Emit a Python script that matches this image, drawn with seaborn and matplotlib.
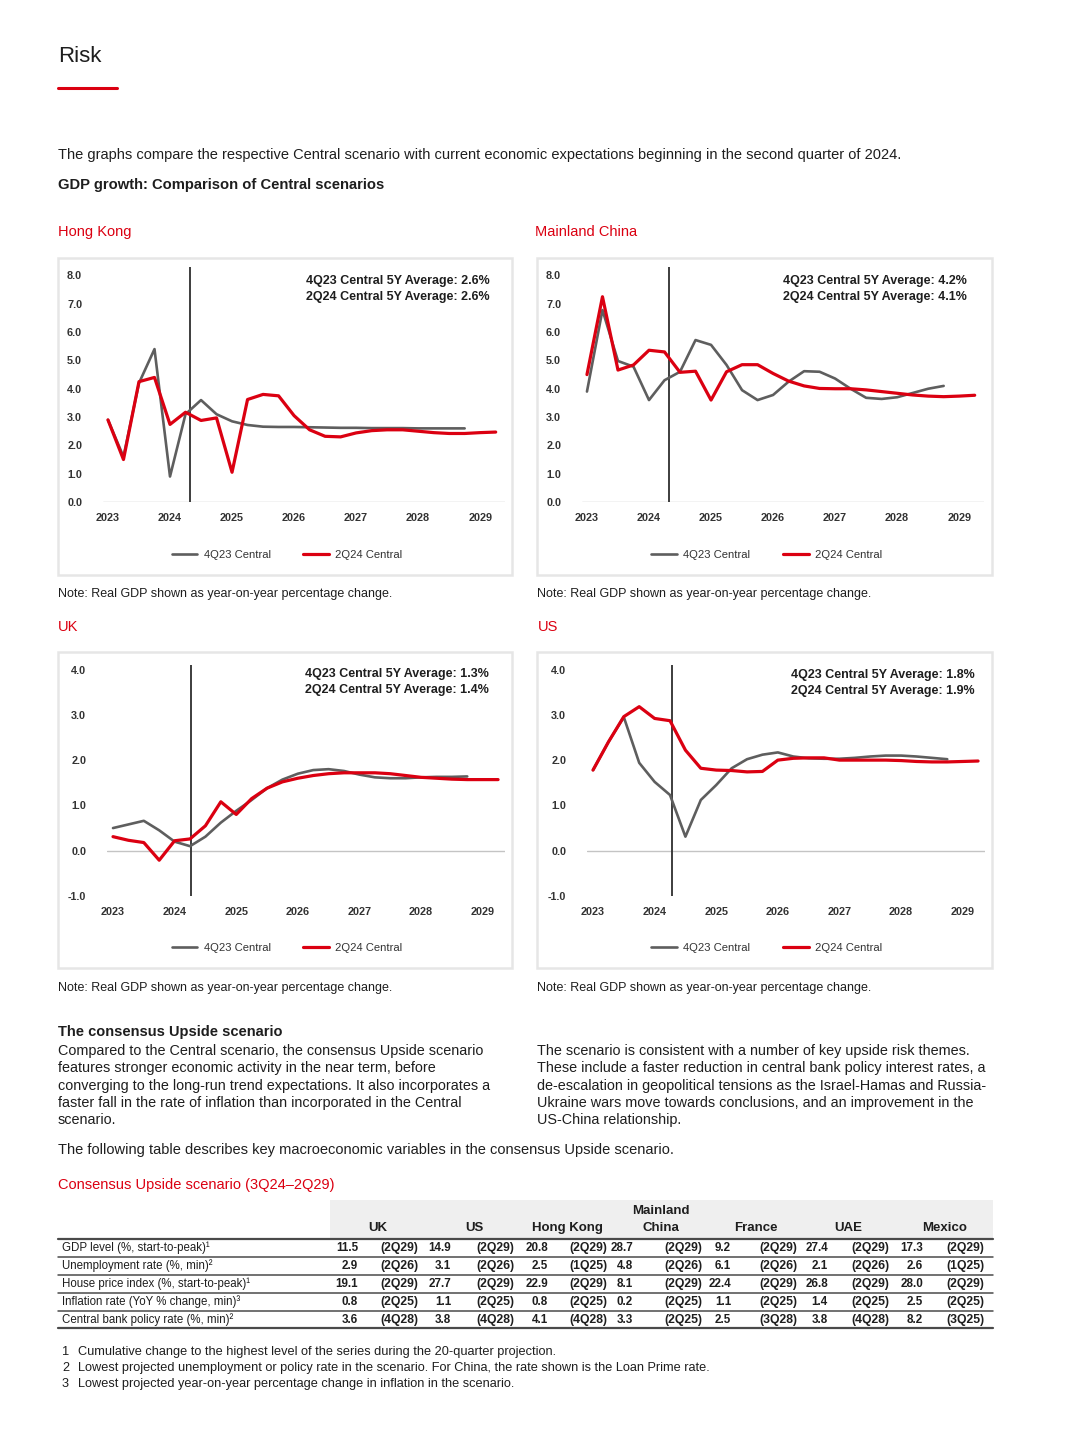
import numpy as np
import matplotlib
matplotlib.use('Agg')
import matplotlib.pyplot as plt
import seaborn as sns
from matplotlib.patches import Rectangle
from matplotlib.lines import Line2D

sns.set_theme(style='white')
plt.rcParams['font.family'] = ['Liberation Sans', 'DejaVu Sans']
plt.rcParams['axes.unicode_minus'] = False

RED = '#db0011'
GREY = '#5e5e5e'
TXT = '#1e1e1e'

# quarterly axis, 1Q23 .. 2Q29
quarters = ['1Q23', '2Q23', '3Q23', '4Q23', '1Q24', '2Q24', '3Q24', '4Q24',
            '1Q25', '2Q25', '3Q25', '4Q25', '1Q26', '2Q26', '3Q26', '4Q26',
            '1Q27', '2Q27', '3Q27', '4Q27', '1Q28', '2Q28', '3Q28', '4Q28',
            '1Q29', '2Q29']
year_labels = ['2023', '2024', '2025', '2026', '2027', '2028', '2029']

# GDP growth, % yoy (4Q23 Central ends 4Q28, 2Q24 Central ends 2Q29)
hk_4q23 = [2.9, 1.6, 4.2, 5.4, 0.9, 3.1, 3.6, 3.1, 2.85, 2.72, 2.66, 2.65,
           2.65, 2.64, 2.63, 2.62, 2.62, 2.61, 2.61, 2.61, 2.6, 2.6, 2.6, 2.6]
hk_2q24 = [2.9, 1.5, 4.25, 4.4, 2.74, 3.17, 2.88, 2.97, 1.05, 3.62, 3.8, 3.75,
           3.05, 2.55, 2.32, 2.3, 2.44, 2.52, 2.55, 2.55, 2.5, 2.45, 2.42, 2.42,
           2.45, 2.47]
cn_4q23 = [3.9, 6.78, 4.98, 4.78, 3.6, 4.3, 4.6, 5.72, 5.55, 4.84, 3.95, 3.6,
           3.78, 4.25, 4.62, 4.6, 4.36, 4.0, 3.68, 3.64, 3.7, 3.85, 4.0, 4.1]
cn_2q24 = [4.5, 7.25, 4.66, 4.84, 5.36, 5.3, 4.58, 4.62, 3.6, 4.6, 4.85, 4.85,
           4.54, 4.27, 4.1, 4.01, 4.0, 4.0, 3.96, 3.9, 3.84, 3.78, 3.74, 3.72,
           3.74, 3.77]
uk_4q23 = [0.5, 0.58, 0.66, 0.45, 0.2, 0.1, 0.31, 0.62, 0.88, 1.12, 1.38, 1.57,
           1.7, 1.78, 1.8, 1.76, 1.68, 1.62, 1.6, 1.6, 1.62, 1.63, 1.63, 1.64]
uk_2q24 = [0.31, 0.23, 0.18, -0.21, 0.22, 0.26, 0.55, 1.08, 0.8, 1.15, 1.38,
           1.52, 1.6, 1.66, 1.7, 1.72, 1.72, 1.72, 1.7, 1.66, 1.62, 1.6, 1.58,
           1.57, 1.57, 1.57]
us_4q23 = [1.78, 2.4, 2.95, 1.94, 1.52, 1.23, 0.31, 1.12, 1.45, 1.82, 2.02,
           2.12, 2.17, 2.08, 2.04, 2.03, 2.03, 2.05, 2.08, 2.1, 2.1, 2.08, 2.05,
           2.02]
us_2q24 = [1.78, 2.4, 2.96, 3.18, 2.92, 2.87, 2.22, 1.82, 1.78, 1.77, 1.74,
           1.75, 2.0, 2.04, 2.05, 2.05, 2.0, 2.0, 2.0, 2.0, 1.99, 1.97, 1.96,
           1.96, 1.97, 1.98]

avg_text = {
    'hk': ['4Q23 Central 5Y Average: 2.6%', '2Q24 Central 5Y Average: 2.6%'],
    'cn': ['4Q23 Central 5Y Average: 4.2%', '2Q24 Central 5Y Average: 4.1%'],
    'uk': ['4Q23 Central 5Y Average: 1.3%', '2Q24 Central 5Y Average: 1.4%'],
    'us': ['4Q23 Central 5Y Average: 1.8%', '2Q24 Central 5Y Average: 1.9%'],
}

# consensus Upside table
row_labels = ['GDP level (%, start-to-peak)¹', 'Unemployment rate (%, min)²',
              'House price index (%, start-to-peak)¹',
              'Inflation rate (YoY % change, min)³',
              'Central bank policy rate (%, min)²']
countries = ['UK', 'US', 'Hong Kong', 'Mainland\nChina', 'France', 'UAE', 'Mexico']
uk_vals = [11.5, 2.9, 19.1, 0.8, 3.6]
us_vals = [14.9, 3.1, 27.7, 1.1, 3.8]
hk_vals = [20.8, 2.5, 22.9, 0.8, 4.1]
cn_vals = [28.7, 4.8, 8.1, 0.2, 3.3]
fr_vals = [9.2, 6.1, 22.4, 1.1, 2.5]
uae_vals = [27.4, 2.1, 26.8, 1.4, 3.8]
mx_vals = [17.3, 2.6, 28.0, 2.5, 8.2]
uk_when = ['2Q29', '2Q26', '2Q29', '2Q25', '4Q28']
us_when = ['2Q29', '2Q26', '2Q29', '2Q25', '4Q28']
hk_when = ['2Q29', '1Q25', '2Q29', '2Q25', '4Q28']
cn_when = ['2Q29', '2Q26', '2Q29', '2Q25', '2Q25']
fr_when = ['2Q29', '2Q26', '2Q29', '2Q25', '3Q28']
uae_when = ['2Q29', '2Q26', '2Q29', '2Q25', '4Q28']
mx_when = ['2Q29', '1Q25', '2Q29', '2Q25', '3Q25']

W, H = 1080, 1440
fig = plt.figure(figsize=(W / 100, H / 100), dpi=100)
fig.patch.set_facecolor('white')

BODY = 10.5


def fx(px):
    return px / W


def fy(py):
    return 1 - py / H


def put(x, y, s, **kw):
    kw.setdefault('color', TXT)
    kw.setdefault('va', 'center')
    fig.text(fx(x), fy(y), s, **kw)


def chart(box, axpx, xlim, ylim, yticks, old, new, avg, vline, avg_xy, leg_y):
    x0, y0, x1, y1 = box
    fig.add_artist(Rectangle((fx(x0), fy(y1)), fx(x1 - x0), (y1 - y0) / H,
                             transform=fig.transFigure, fill=False,
                             edgecolor='#e6e6e6', lw=1.8))
    a0, b0, a1, b1 = axpx
    ax = fig.add_axes([fx(a0), fy(b1), fx(a1 - a0), (b1 - b0) / H])
    ax.set_facecolor('none')
    ax.axhline(0, color='#c4c4c4', lw=1.0, zorder=1)
    ax.axvline(vline, color='#2e2e2e', lw=1.3, zorder=1)
    sns.lineplot(x=np.arange(len(old)), y=old, ax=ax, color=GREY, lw=1.9,
                 label='4Q23 Central', zorder=3)
    sns.lineplot(x=np.arange(len(new)), y=new, ax=ax, color=RED, lw=2.3,
                 label='2Q24 Central', zorder=4)
    ax.set_xlim(*xlim)
    ax.set_ylim(*ylim)
    ax.set_yticks(yticks)
    ax.set_yticklabels([f'{t:.1f}' for t in yticks], fontweight='bold')
    ticks = [i for i, q in enumerate(quarters) if q.startswith('1Q')]
    ax.set_xticks(ticks)
    ax.set_xticklabels(year_labels, fontweight='bold')
    ax.tick_params(axis='y', length=0, pad=15, labelsize=7.8, labelcolor='#333333')
    ax.tick_params(axis='x', length=0, pad=8, labelsize=7.8, labelcolor='#333333')
    for s in ax.spines.values():
        s.set_visible(False)
    ax.grid(False)
    ax.set_xlabel('')
    ax.set_ylabel('')
    put(avg_xy[0], avg_xy[1], avg[0], ha='right', fontsize=9, fontweight='bold')
    put(avg_xy[0], avg_xy[1] + 16, avg[1], ha='right', fontsize=9, fontweight='bold')
    ax.legend(loc='center', bbox_to_anchor=(fx((x0 + x1) / 2 + 2), fy(leg_y)),
              bbox_transform=fig.transFigure, ncol=2, frameon=False,
              fontsize=8.1, handlelength=2.3, columnspacing=2.9,
              handletextpad=0.55, labelcolor='#333333')
    return ax


# header
put(58, 56, 'Risk', fontsize=16)
fig.add_artist(Line2D([fx(58), fx(117)], [fy(88), fy(88)], color=RED, lw=2.2,
                      transform=fig.transFigure))
put(58, 155, 'The graphs compare the respective Central scenario with current '
    'economic expectations beginning in the second quarter of 2024.', fontsize=BODY)
put(58, 185, 'GDP growth: Comparison of Central scenarios', fontsize=10.6,
    fontweight='bold')

put(58, 232, 'Hong Kong', fontsize=BODY, color=RED)
put(535, 232, 'Mainland China', fontsize=BODY, color=RED)
put(58, 627, 'UK', fontsize=BODY, color=RED)
put(538, 627, 'US', fontsize=BODY, color=RED)

xl_top = (-0.32, 25.6)
xl_bot = (-0.39, 25.45)
chart((58, 258, 512, 575), (103, 267, 505, 502), xl_top, (0, 8.3),
      np.arange(0, 9, 1.0), hk_4q23, hk_2q24, avg_text['hk'], 5.3, (490, 281), 555)
chart((537, 258, 992, 575), (582, 267, 984, 502), xl_top, (0, 8.3),
      np.arange(0, 9, 1.0), cn_4q23, cn_2q24, avg_text['cn'], 5.3, (967, 281), 555)
chart((58, 652, 512, 968), (107, 665, 505, 896), xl_bot, (-1, 4.1),
      np.arange(-1, 5, 1.0), uk_4q23, uk_2q24, avg_text['uk'], 5.05, (489, 674), 948)
chart((537, 652, 992, 968), (587, 665, 985, 896), xl_bot, (-1, 4.1),
      np.arange(-1, 5, 1.0), us_4q23, us_2q24, avg_text['us'], 5.15, (975, 675), 948)

note = 'Note: Real GDP shown as year-on-year percentage change.'
for nx, ny in [(58, 594), (537, 594), (58, 988), (537, 988)]:
    put(nx, ny, note, fontsize=9)

# consensus Upside text
put(58, 1032, 'The consensus Upside scenario', fontsize=BODY, fontweight='bold')
left_par = ['Compared to the Central scenario, the consensus Upside scenario',
            'features stronger economic activity in the near term, before',
            'converging to the long-run trend expectations. It also incorporates a',
            'faster fall in the rate of inflation than incorporated in the Central',
            'scenario.']
right_par = ['The scenario is consistent with a number of key upside risk themes.',
             'These include a faster reduction in central bank policy interest rates, a',
             'de-escalation in geopolitical tensions as the Israel-Hamas and Russia-',
             'Ukraine wars move towards conclusions, and an improvement in the',
             'US-China relationship.']
for i, (l, r) in enumerate(zip(left_par, right_par)):
    yy = 1051 + i * 17.3
    put(58, yy, l, fontsize=10.4)
    put(537, yy, r, fontsize=10.4)
put(58, 1150, 'The following table describes key macroeconomic variables in the '
    'consensus Upside scenario.', fontsize=BODY)
put(58, 1185, 'Consensus Upside scenario (3Q24\u20132Q29)', fontsize=BODY, color=RED)

# table
fig.add_artist(Rectangle((fx(330), fy(1238)), fx(993 - 330), 38 / H,
                         transform=fig.transFigure, facecolor='#efefef',
                         edgecolor='none'))
val_right = [358, 451, 548, 633, 731, 828, 923]
when_ctr = [399, 495, 588, 683, 778, 870, 965]
head_ctr = [378, 474, 567, 661, 756, 848, 945]
for c, hc in zip(countries, head_ctr):
    if '\n' in c:
        top, bot = c.split('\n')
        put(hc, 1211, top, ha='center', fontsize=9.5, fontweight='bold')
        put(hc, 1228, bot, ha='center', fontsize=9.5, fontweight='bold')
    else:
        put(hc, 1228, c, ha='center', fontsize=9.5, fontweight='bold')

line_ys = [1239, 1256.5, 1274.5, 1292.5, 1310.5, 1328]
for k, ly in enumerate(line_ys):
    fig.add_artist(Line2D([fx(58), fx(993)], [fy(ly), fy(ly)], color='#4a4a4a',
                          lw=1.6 if k in (0, 5) else 1.1, transform=fig.transFigure))

all_vals = [uk_vals, us_vals, hk_vals, cn_vals, fr_vals, uae_vals, mx_vals]
all_when = [uk_when, us_when, hk_when, cn_when, fr_when, uae_when, mx_when]
for r, lab in enumerate(row_labels):
    ry = 1248 + r * 17.9
    put(62, ry, lab, fontsize=8.3)
    for vals, whens, vr, wc in zip(all_vals, all_when, val_right, when_ctr):
        put(vr, ry, f'{vals[r]:.1f}', ha='right', fontsize=8.4, fontweight='bold')
        put(wc, ry, f'({whens[r]})', ha='center', fontsize=8.8, fontweight='bold')

foot = ['Cumulative change to the highest level of the series during the 20-quarter projection.',
        'Lowest projected unemployment or policy rate in the scenario. For China, '
        'the rate shown is the Loan Prime rate.',
        'Lowest projected year-on-year percentage change in inflation in the scenario.']
for i, f in enumerate(foot):
    put(62, 1352 + i * 16, str(i + 1), fontsize=9.2)
    put(78, 1352 + i * 16, f, fontsize=9.2)

fig.savefig('out.png', dpi=100, facecolor='white')
